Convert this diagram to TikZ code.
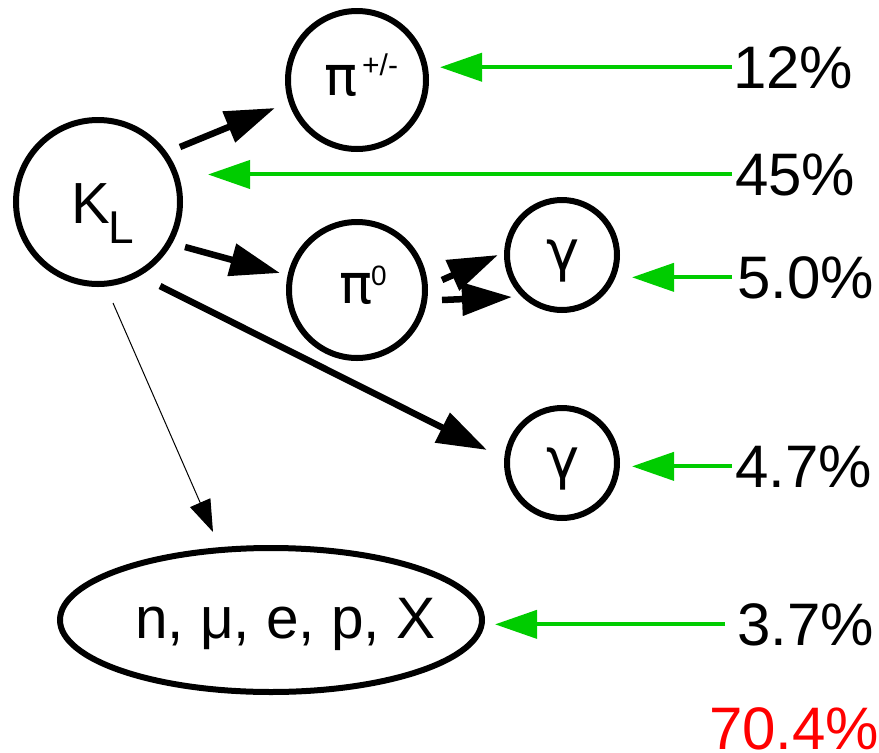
\documentclass[tikz,border=0pt]{standalone}
\usepackage{fontspec}
\setmainfont{Liberation Sans}
\newfontfamily\dvs{DejaVu Sans}
\usetikzlibrary{arrows.meta,shapes.geometric}
\definecolor{grn}{RGB}{0,204,0}
\definecolor{redpct}{RGB}{255,0,0}
\begin{document}
\begin{tikzpicture}[x=1pt,y=-1pt,
  circ/.style={circle,draw,line width=6pt,inner sep=0pt},
  lbl/.style={anchor=base west,inner sep=0pt,font=\fontsize{58}{62}\selectfont},
  pilbl/.style={anchor=base west,inner sep=0pt,font=\dvs\fontsize{55}{60}\selectfont},
  glbl/.style={anchor=base,inner sep=0pt,font=\dvs\fontsize{56}{60}\selectfont},
  supl/.style={anchor=base west,inner sep=0pt,font=\fontsize{30}{32}\selectfont},
  pct/.style={anchor=base west,inner sep=0pt,font=\fontsize{60}{64}\selectfont},
  blk/.style={line width=6.5pt,-{Triangle[length=50pt,width=32pt]}},
  thinarr/.style={line width=1pt,-{Triangle[length=32pt,width=22pt]}},
  grnarr/.style={grn,line width=4pt,-{Triangle[length=42pt,width=28pt]}},
]
\useasboundingbox (0,0) rectangle (879,753);
% shapes
\node[circ,minimum size=138pt] (pipm) at (357,80) {};
\node[circ,minimum size=164pt] (KL) at (98,202) {};
\node[circ,minimum size=136pt] (pi0) at (357,290) {};
\node[circ,minimum size=110pt] (g1) at (562,255) {};
\node[circ,minimum size=110pt] (g2) at (562,463) {};
\node[ellipse,draw,line width=6pt,inner sep=0pt,minimum width=422pt,minimum height=144pt] (ell) at (271,620) {};
% labels
\node[lbl] (tK) at (71,223) {K};
\node[anchor=base west,inner sep=0pt,font=\fontsize{46}{48}\selectfont] (tL) at (108,243) {L};
\node[pilbl] (tpi) at (324,95) {π};
\node[supl] (tpm) at (362,75) {+/-};
\node[pilbl] (tpi0) at (339,303) {π};
\node[anchor=base west,inner sep=0pt,font=\fontsize{28}{30}\selectfont] (t0) at (371,285) {0};
\node[glbl] (tg1) at (563,270) {γ};
\node[glbl] (tg2) at (563,478) {γ};
\node[anchor=base west,inner sep=0pt,font=\fontsize{58.5}{62}\selectfont] (tell) at (135,638) {n, μ, e, p, X};
% percentages
\node[pct] (p12) at (733,88) {12\%};
\node[pct] (p45) at (735,195) {45\%};
\node[pct] (p50) at (737,298) {5.0\%};
\node[pct] (p47) at (735,487) {4.7\%};
\node[pct] (p37) at (737,645) {3.7\%};
\node[pct,text=redpct] (ptot) at (709,749) {70.4\%};
% black arrow ends
\coordinate (a1s) at (180,147); \coordinate (a1e) at (275,108);
\coordinate (a2s) at (185,247); \coordinate (a2e) at (280,273);
\coordinate (a3s) at (160,286); \coordinate (a3e) at (487,450);
\coordinate (a4s) at (113,303); \coordinate (a4e) at (213,532);
\coordinate (a5s) at (442,280); \coordinate (a5e) at (498,255);
\coordinate (a6s) at (442,300); \coordinate (a6e) at (512,297);
\draw[blk] (a1s) -- (a1e);
\draw[blk] (a2s) -- (a2e);
\draw[blk] (a3s) -- (a3e);
\draw[thinarr] (a4s) -- (a4e);
\draw[blk] (a5s) -- (a5e);
\draw[blk] (a6s) -- (a6e);
% green arrows
\draw[grnarr] ([xshift=-1pt]p12.west) -- ([xshift=11pt]p12.west -| pipm.east);
\draw[grnarr] ([xshift=-3pt]p45.west) -- ([xshift=25pt]p45.west -| KL.east);
\draw[grnarr] ([xshift=-5pt]p50.west) -- ([xshift=12pt]p50.west -| g1.east);
\draw[grnarr] ([xshift=-3pt]p47.west) -- ([xshift=12pt]p47.west -| g2.east);
\draw[grnarr] ([xshift=-12pt]p37.west) -- ([xshift=10pt]p37.west -| ell.east);
\end{tikzpicture}
\end{document}
